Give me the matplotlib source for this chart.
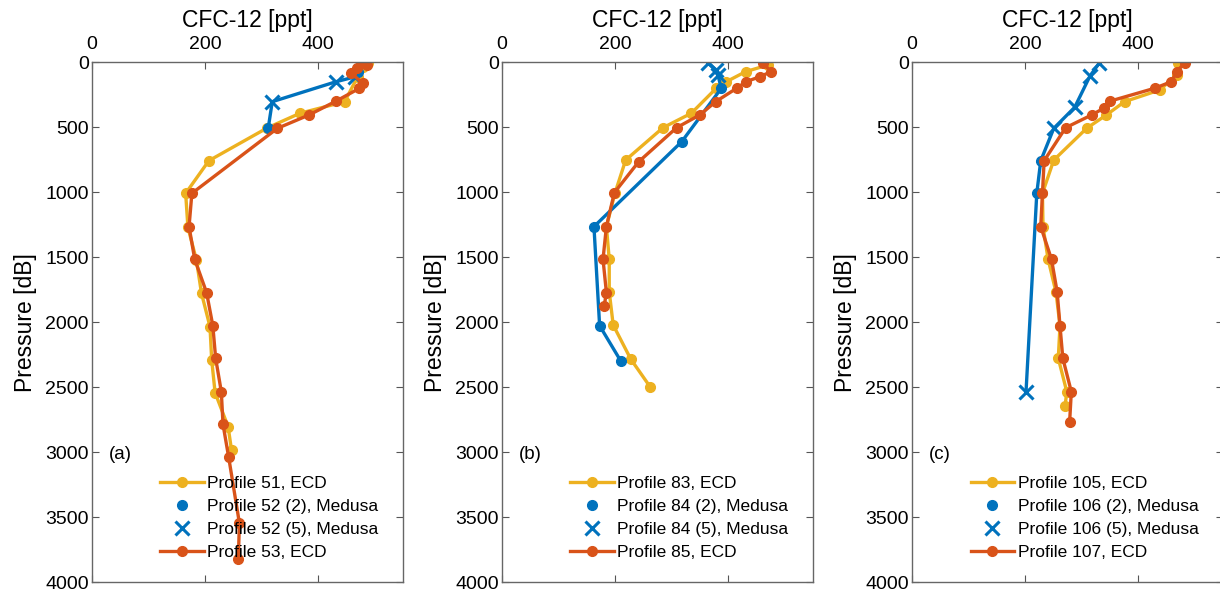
import matplotlib.pyplot as plt
import numpy as np

plt.rcParams['font.family'] = ['Liberation Sans', 'DejaVu Sans']

# couleurs par défaut matlab
c_bleu = '#0072BD'
c_orange = '#D95319'
c_jaune = '#EDB120'

# (a) profils 51 / 52 / 53
a_ecd1_cfc = [488, 480, 470, 447, 368, 310, 207, 166, 170, 185, 194, 209, 212, 218, 241, 247]
a_ecd1_p = [4, 40, 110, 303, 392, 505, 757, 1008, 1270, 1521, 1777, 2034, 2290, 2541, 2803, 2982]
a_med2_cfc = [470, 312]
a_med2_p = [72, 503]
a_med5_cfc = [466, 432, 319]
a_med5_p = [111, 149, 303]
a_ecd2_cfc = [479, 487, 468, 459, 479, 473, 432, 384, 328, 177, 172, 182, 203, 214, 219, 229, 232, 242, 261, 259]
a_ecd2_p = [8, 20, 46, 85, 162, 200, 298, 405, 508, 1008, 1264, 1515, 1772, 2026, 2277, 2534, 2785, 3038, 3546, 3823]

# (b) profils 83 / 84 / 85
b_ecd1_cfc = [471, 431, 397, 379, 335, 285, 219, 200, 185, 190, 190, 197, 228, 262]
b_ecd1_p = [20, 72, 149, 200, 392, 503, 752, 1008, 1264, 1515, 1765, 2021, 2283, 2495]
b_med2_cfc = [388, 318, 163, 173, 210]
b_med2_p = [200, 611, 1264, 2026, 2295]
b_med5_cfc = [365, 379, 382]
b_med5_p = [8, 59, 98]
b_ecd2_cfc = [462, 476, 456, 432, 415, 378, 350, 309, 242, 199, 185, 179, 185, 181]
b_ecd2_p = [8, 72, 111, 149, 200, 303, 405, 503, 765, 1003, 1264, 1515, 1772, 1875]

# (c) profils 105 / 106 / 107
c_ecd1_cfc = [471, 468, 438, 376, 344, 309, 251, 231, 232, 241, 255, 262, 259, 274, 271]
c_ecd1_p = [8, 100, 213, 303, 405, 508, 752, 1008, 1264, 1515, 1770, 2026, 2277, 2534, 2644]
c_med2_cfc = [228, 221]
c_med2_p = [757, 1008]
c_med5_cfc = [331, 315, 288, 251, 202]
c_med5_p = [8, 105, 346, 508, 2534]
c_ecd2_cfc = [482, 468, 459, 429, 351, 339, 318, 272, 234, 231, 228, 247, 257, 262, 267, 282, 279]
c_ecd2_p = [8, 72, 149, 200, 298, 354, 405, 503, 757, 1008, 1264, 1515, 1767, 2026, 2277, 2534, 2769]

panneaux = [
    ('(a)', ['51', '52', '53'], a_ecd1_cfc, a_ecd1_p, a_med2_cfc, a_med2_p, a_med5_cfc, a_med5_p, a_ecd2_cfc, a_ecd2_p),
    ('(b)', ['83', '84', '85'], b_ecd1_cfc, b_ecd1_p, b_med2_cfc, b_med2_p, b_med5_cfc, b_med5_p, b_ecd2_cfc, b_ecd2_p),
    ('(c)', ['105', '106', '107'], c_ecd1_cfc, c_ecd1_p, c_med2_cfc, c_med2_p, c_med5_cfc, c_med5_p, c_ecd2_cfc, c_ecd2_p),
]

W, H = 1220, 597
fig = plt.figure(figsize=(W / 100, H / 100), dpi=100)

gauches = [91.7, 501.7, 911.7]
for k, pan in enumerate(panneaux):
    lettre, num, e1x, e1p, m2x, m2p, m5x, m5p, e2x, e2p = pan
    ax = fig.add_axes([gauches[k] / W, 14.7 / H, 311.3 / W, 520 / H])

    ax.plot(e1x, e1p, '-o', color=c_jaune, lw=2.4, ms=7, label='Profile %s, ECD' % num[0])

    # ligne medusa (les deux lancers ensemble)
    bx = np.array(m2x + m5x)
    bp = np.array(m2p + m5p)
    ordre = np.argsort(bp)
    ax.plot(bx[ordre], bp[ordre], '-', color=c_bleu, lw=2.4)
    ax.plot(m2x, m2p, 'o', color=c_bleu, ms=7, label='Profile %s (2), Medusa' % num[1])
    ax.plot(m5x, m5p, 'x', color=c_bleu, ms=10, mew=2.2, label='Profile %s (5), Medusa' % num[1])

    ax.plot(e2x, e2p, '-o', color=c_orange, lw=2.4, ms=7, label='Profile %s, ECD' % num[2])

    ax.set_xlim(0, 550)
    ax.set_ylim(4000, 0)
    ax.set_xticks([0, 200, 400])
    ax.set_yticks(np.arange(0, 4001, 500))
    ax.xaxis.tick_top()
    ax.xaxis.set_label_position('top')
    ax.tick_params(axis='both', direction='in', length=5, width=0.8, color='#555555',
                   labelsize=14, top=True, bottom=True, left=True, right=True, labelbottom=False)
    ax.tick_params(axis='x', pad=7)
    ax.tick_params(axis='y', pad=2)
    for s in ax.spines.values():
        s.set_color('#666666')
        s.set_linewidth(1.0)
    ax.set_xlabel('CFC-12 [ppt]', fontsize=16.5, labelpad=6)
    ax.set_ylabel('Pressure [dB]', fontsize=16.5, labelpad=6)

    ax.text(30, 3020, lettre, fontsize=13.5, va='center', ha='left')
    ax.legend(loc='lower right', bbox_to_anchor=(0.96, 0.02), frameon=False, fontsize=12.5,
              handlelength=2.5, handletextpad=0.2, labelspacing=0.45, borderpad=0.2)

fig.savefig('out.png', dpi=100)
